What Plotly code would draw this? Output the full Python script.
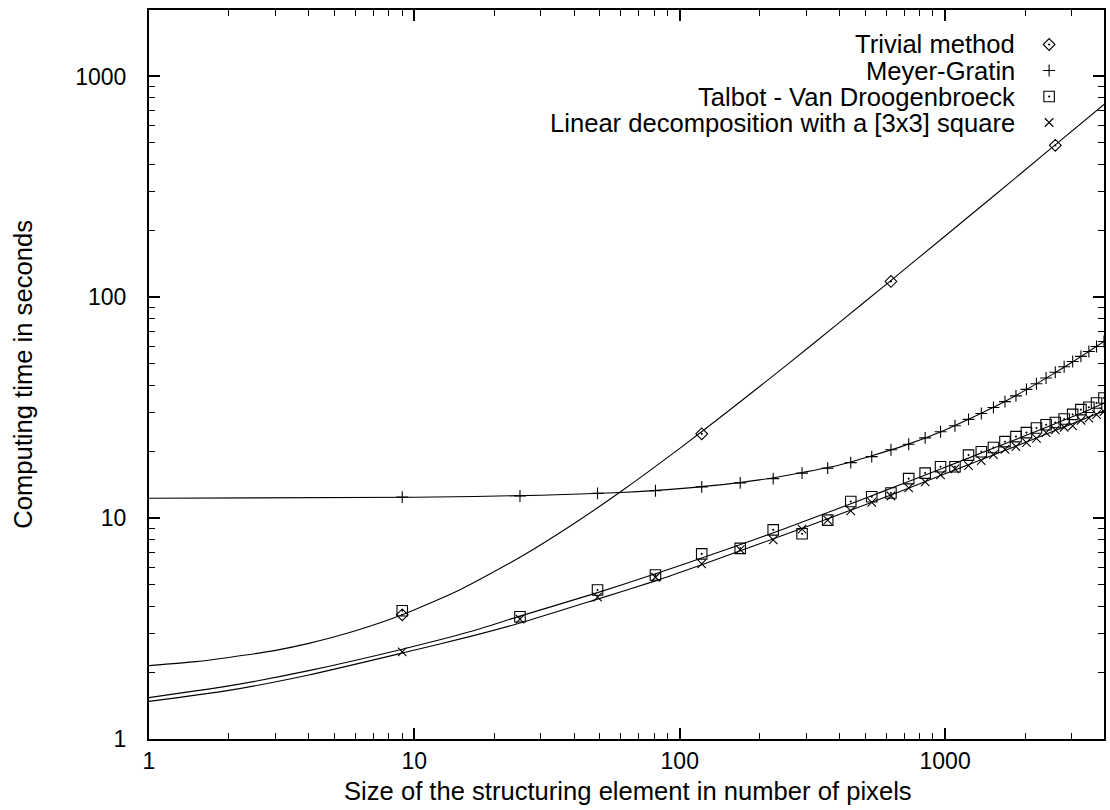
import plotly.graph_objects as go

# ---------------- data ----------------
sizes = [9, 25, 49, 81, 121, 169, 225, 289, 361, 441, 529, 625, 729, 841, 961,
         1089, 1225, 1369, 1521, 1681, 1849, 2025, 2209, 2401, 2601, 2809,
         3025, 3249, 3481, 3721, 3969]

trivial_x = [9, 121, 625, 2601]
trivial_y = [3.65, 24.1, 118, 488]

meyer_y = [12.45, 12.6, 12.95, 13.3, 13.85, 14.45, 15.1, 16.0, 16.85, 17.85,
           19.0, 20.4, 21.6, 23.1, 24.6, 26.2, 28.0, 29.8, 31.7, 33.7, 35.8,
           38.3, 40.6, 43.1, 45.8, 48.5, 51.2, 54.0, 56.8, 59.9, 63.1]

talbot_y = [3.81, 3.58, 4.73, 5.53, 6.89, 7.3, 8.85, 8.5, 9.8, 11.9, 12.5,
            13.0, 15.1, 16.0, 17.1, 17.1, 19.3, 20.0, 20.9, 22.2, 23.4, 24.4,
            25.6, 26.5, 27.1, 28.1, 29.5, 31.0, 31.8, 33.2, 35.0]

linear_y = [2.48, 3.49, 4.39, 5.40, 6.21, 7.2, 7.97, 8.91, 9.8, 10.8, 11.8,
            12.6, 13.7, 14.6, 15.7, 16.7, 17.3, 18.2, 19.4, 20.5, 21.1, 22.0,
            23.0, 24.4, 25.1, 25.8, 26.2, 27.7, 28.4, 29.4, 30.4]

# fitted curves
trivial_fit_x = [1, 1.5, 2, 3, 4, 6, 9, 15, 25, 40, 60, 100, 150, 250, 400,
                 600, 1000, 1500, 2500, 4000]
trivial_fit_y = [2.15, 2.24, 2.34, 2.52, 2.71, 3.09, 3.65, 4.77, 6.65, 9.46,
                 13.2, 20.7, 30.1, 48.8, 77.0, 114.5, 189.5, 283, 471, 752]

meyer_fit_x = [1, 10, 30, 60, 100, 200, 400, 700, 1000, 1500, 2000, 2500,
               3000, 3500, 4000]
meyer_fit_y = [12.3, 12.43, 12.7, 13.07, 13.6, 14.9, 17.4, 21.3, 25.1, 31.5,
               37.9, 44.3, 50.7, 57.1, 63.5]

sqfit_x = [1, 2, 4, 9, 16, 25, 49, 81, 121, 200, 300, 500, 700, 1000, 1500,
           2000, 2500, 3000, 3500, 4000]
talbot_fit_y = [1.54, 1.74, 2.04, 2.55, 3.05, 3.6, 4.6, 5.6, 6.6, 8.15, 9.75,
                12.3, 14.4, 17.0, 20.6, 23.6, 26.3, 28.7, 31.0, 33.3]
linear_fit_y = [1.48, 1.66, 1.95, 2.45, 2.9, 3.35, 4.3, 5.2, 6.15, 7.65, 9.15,
                11.5, 13.4, 15.9, 19.2, 22.0, 24.5, 26.7, 28.8, 30.7]

legend_labels = ["Trivial method", "Meyer-Gratin", "Talbot - Van Droogenbroeck",
                 "Linear decomposition with a [3x3] square"]
legend_symbols = ["diamond-open-dot", "cross-thin-open", "square-open-dot",
                  "x-thin-open"]

tick_vals = [1, 10, 100, 1000]
tick_text = ["1", "10", "100", "1000"]

x_title = "Size of the structuring element in number of pixels"
y_title = "Computing time in seconds"

# ---------------- figure ----------------
FONT = "Liberation Sans, Arial, Helvetica, sans-serif"
FS_TICK = 23
FS_TEXT = 25.6
INK = "black"
W, H = 1110, 810
L, R, T, B = 149, 4, 10, 71
PW, PH = W - L - R, H - T - B


def px_to_paper(px, py):
    """Convert picture pixel position to paper coordinates."""
    return (px - L) / PW, (H - B - py) / PH


fig = go.Figure()

line_style = dict(color=INK, width=1.1, shape="spline", smoothing=0.6)
for fx, fy in [(trivial_fit_x, trivial_fit_y), (meyer_fit_x, meyer_fit_y),
               (sqfit_x, talbot_fit_y), (sqfit_x, linear_fit_y)]:
    fig.add_trace(go.Scatter(x=fx, y=fy, mode="lines", line=line_style,
                             hoverinfo="skip", showlegend=False))

msz = {"diamond-open-dot": 9, "cross-thin-open": 8.5,
       "square-open-dot": 10.5, "x-thin-open": 8.5}
series = [(trivial_x, trivial_y), (sizes, meyer_y), (sizes, talbot_y),
          (sizes, linear_y)]
for (sx, sy), sym, name in zip(series, legend_symbols, legend_labels):
    fig.add_trace(go.Scatter(x=sx, y=sy, mode="markers", name=name,
                             marker=dict(symbol=sym, size=msz[sym], color=INK,
                                         line=dict(color=INK, width=1.1)),
                             showlegend=False))

# legend drawn gnuplot-style (text right-aligned, key on its right),
# key markers on a hidden overlay axis measured in pixels
leg_key_x = 1051
leg_text_x = 1019
leg_y0, leg_dy = 44.5, 26
for i, (sym, name) in enumerate(zip(legend_symbols, legend_labels)):
    yy = leg_y0 + i * leg_dy
    fig.add_trace(go.Scatter(x=[leg_key_x], y=[yy], mode="markers",
                             xaxis="x2", yaxis="y2", showlegend=False,
                             hoverinfo="skip",
                             marker=dict(symbol=sym, size=msz[sym], color=INK,
                                         line=dict(color=INK, width=1.1))))
    ax, ay = px_to_paper(leg_text_x, yy)
    fig.add_annotation(x=ax, y=ay, xref="paper", yref="paper", text=name,
                       showarrow=False, xanchor="right", yanchor="middle",
                       font=dict(family=FONT, size=FS_TEXT, color=INK))

# axis titles
tx, ty = px_to_paper(629, 791)
fig.add_annotation(x=tx, y=ty, xref="paper", yref="paper", text=x_title,
                   showarrow=False, xanchor="center", yanchor="middle",
                   font=dict(family=FONT, size=FS_TEXT, color=INK))
tx, ty = px_to_paper(22, 374.5)
fig.add_annotation(x=tx, y=ty, xref="paper", yref="paper", text=y_title,
                   textangle=-90, showarrow=False, xanchor="center",
                   yanchor="middle",
                   font=dict(family=FONT, size=FS_TEXT, color=INK))

axis_common = dict(
    type="log", showgrid=False, zeroline=False,
    showline=True, linecolor=INK, linewidth=2, mirror="allticks",
    ticks="inside", ticklen=11, tickwidth=1.5, tickcolor=INK,
    tickvals=tick_vals, ticktext=tick_text,
    tickfont=dict(family=FONT, size=FS_TICK, color=INK),
    minor=dict(ticks="inside", ticklen=6, tickwidth=1.2, tickcolor=INK,
               dtick="D1", showgrid=False),
)

fig.update_layout(
    width=W, height=H,
    margin=dict(l=L, r=R, t=T, b=B, pad=0),
    paper_bgcolor="white", plot_bgcolor="white",
    showlegend=False,
    font=dict(family=FONT, size=FS_TEXT, color=INK),
    xaxis=dict(**axis_common, range=[0, 3.5987], ticklabelstandoff=0),
    yaxis=dict(**axis_common, range=[0, 3.301], ticklabelstandoff=16),
    xaxis2=dict(overlaying="x", range=[L, W - R], visible=False,
                showgrid=False, zeroline=False),
    yaxis2=dict(overlaying="y", range=[H - B, T], visible=False,
                showgrid=False, zeroline=False),
)

fig.write_html("out.html")
